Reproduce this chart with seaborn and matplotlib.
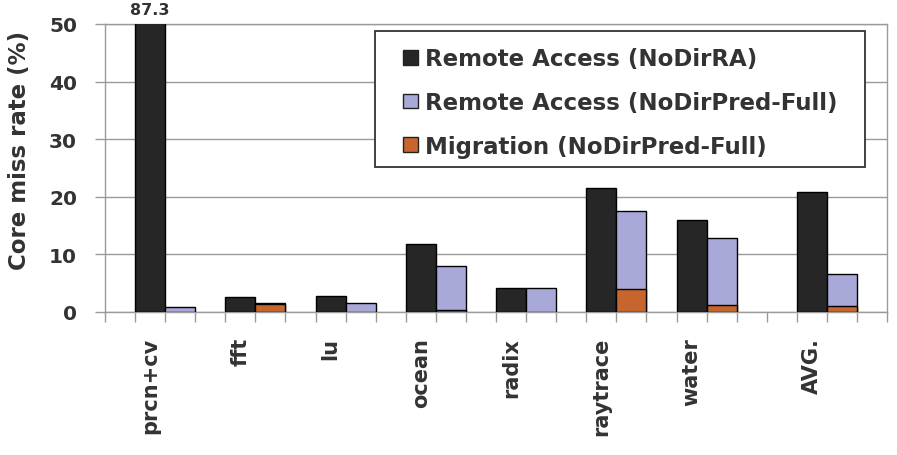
import numpy as np
import pandas as pd
import seaborn as sns
import matplotlib.pyplot as plt
from matplotlib.patches import Patch, Rectangle

benchmarks = ['prcn+cv', 'fft', 'lu', 'ocean', 'radix', 'raytrace', 'water', 'AVG.']
ra_nodirra = [87.3, 2.6, 2.8, 11.8, 4.1, 21.5, 16.0, 20.9]
ra_pred_full = [0.8, 0.2, 1.6, 7.7, 4.1, 13.5, 11.6, 5.6]
mig_pred_full = [0.0, 1.4, 0.0, 0.3, 0.0, 4.0, 1.2, 1.0]
series_names = ['Remote Access (NoDirRA)', 'Remote Access (NoDirPred-Full)', 'Migration (NoDirPred-Full)']
colors = ['#262626', '#a9a9d9', '#c6652e']

sns.set_theme(style='white')
plt.rcParams['font.family'] = ['DejaVu Sans']
plt.rcParams['font.weight'] = 'bold'
plt.rcParams['axes.labelweight'] = 'bold'
txt = '#333333'
gray = '#9a9a9a'

# each group takes 3 slots (dark, light, gap); AVG. gets one extra gap slot
slot = np.array([3 * i + (1 if b == 'AVG.' else 0) for i, b in enumerate(benchmarks)])
df = pd.DataFrame({
    'bench': benchmarks,
    'x_dark': slot + 1.5,
    'x_light': slot + 2.5,
    'dark': ra_nodirra,
    'light': np.array(ra_pred_full) + np.array(mig_pred_full),
    'mig': mig_pred_full,
})

fig = plt.figure(figsize=(8.97, 4.56), dpi=100)
ax = fig.add_axes([0.117, 0.3136, 0.872, 0.6316])

kw = dict(native_scale=True, width=1 / 3, edgecolor='black', linewidth=1, saturation=1, ax=ax, zorder=3)
sns.barplot(data=df, x='x_dark', y='dark', color=colors[0], **kw)
sns.barplot(data=df, x='x_light', y='light', color=colors[1], **kw)
sns.barplot(data=df[df['mig'] > 0], x='x_light', y='mig', color=colors[2], **kw)

ax.set_xlim(0, 26)
ax.set_ylim(0, 50)
ax.set_yticks([0, 10, 20, 30, 40, 50])
ax.grid(axis='y', color=gray, linewidth=1)
ax.grid(axis='x', visible=False)
for s in ax.spines.values():
    s.set_color(gray)
    s.set_linewidth(1)

ax.set_xticks(df['x_dark'])
ax.set_xticklabels(benchmarks, rotation=90, ha='center', va='top')
ax.set_xticks(np.arange(27), minor=True)
ax.tick_params(axis='x', which='major', length=0, pad=18, labelsize=15, labelcolor=txt)
ax.tick_params(axis='x', which='minor', length=7, color=gray, width=1, direction='out', bottom=True)
ax.tick_params(axis='y', length=7, color=gray, width=1, direction='out', left=True, pad=13,
               labelsize=14.5, labelcolor=txt)
ax.set_xlabel('')
ax.set_ylabel('Core miss rate (%)', fontsize=16.5, color=txt)
ax.yaxis.set_label_coords(-0.094, 0.566)

ax.annotate('87.3', xy=(df['x_dark'][0], 50), xytext=(0, 5), textcoords='offset points',
            ha='center', va='bottom', fontsize=11.5, color=txt, fontweight='bold',
            annotation_clip=False)

# legend box drawn separately so its padding can match the original
ax.add_patch(Rectangle((0.418, 0.632), 0.546, 0.298, transform=fig.transFigure, clip_on=False,
                       facecolor='white', edgecolor='#333333', linewidth=1.3, zorder=4.5))
handles = [Patch(facecolor=c, edgecolor='#222222', linewidth=1) for c in colors]
leg = ax.legend(handles, series_names, loc='upper left', bbox_to_anchor=(0.449, 0.894),
                bbox_transform=fig.transFigure, fontsize=16.5, frameon=False,
                handlelength=0.65, handleheight=0.6, handletextpad=0.3,
                labelspacing=0.9, borderpad=0, borderaxespad=0)
leg.set_zorder(6)
for t in leg.get_texts():
    t.set_color(txt)

fig.savefig('out.png', dpi=100)
